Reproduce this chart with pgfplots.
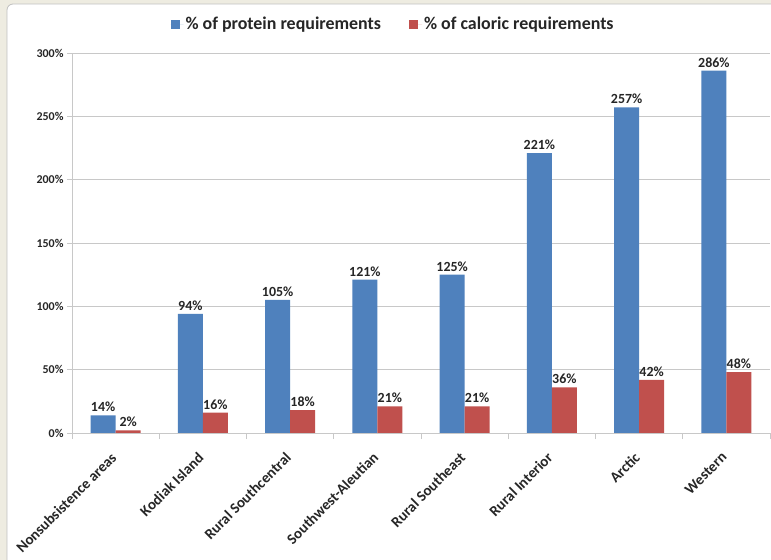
\documentclass[border=0pt]{standalone}
\usepackage{fontspec}
\setmainfont{Carlito}
\usepackage{pgfplots}
\pgfplotsset{compat=1.18}
\definecolor{cblue}{HTML}{4F81BD}
\definecolor{cred}{HTML}{C0504D}
\definecolor{bgbeige}{HTML}{EEECE1}
\definecolor{gridc}{HTML}{C8C8C8}
\definecolor{txt}{HTML}{262626}
\begin{document}
\begin{tikzpicture}
\useasboundingbox (0,0) rectangle (771bp,560bp);
\fill[bgbeige] (0,0) rectangle (771bp,560bp);
\draw[fill=white, draw=gray!50, line width=0.8bp, rounded corners=6bp] (7bp,-20bp) rectangle (800bp,556bp);
\begin{axis}[
  at={(72bp,127bp)}, anchor=south west,
  width=698bp, height=380bp, scale only axis,
  ymin=0, ymax=300, xmin=-0.5, xmax=7.5,
  ybar=0pt, bar width=25bp,
  /pgf/number format/assume math mode=true,
  axis x line*=bottom, axis y line*=left,
  axis line style={-, draw=gridc, line width=0.8bp},
  ytick={0,50,...,300},
  yticklabel={\pgfmathprintnumber{\tick}\%},
  yticklabel style={font=\bfseries\fontsize{12}{14}\selectfont, text=txt},
  ymajorgrids, grid style={draw=gridc, line width=0.8bp},
  tick align=outside,
  major tick length=5bp, minor tick length=6bp,
  every tick/.style={draw=gridc, line width=0.8bp},
  xtick={0,...,7},
  major x tick style={draw=none},
  minor xtick={-0.5,0.5,...,7.5},
  xticklabels={Nonsubsistence areas, Kodiak Island, Rural Southcentral, Southwest-Aleutian, Rural Southeast, Rural Interior, Arctic, Western},
  xticklabel style={rotate=45, anchor=north east, font=\bfseries\fontsize{15}{17}\selectfont, text=txt, xshift=-10bp, yshift=-2bp},
  nodes near coords={\pgfmathprintnumber{\pgfplotspointmeta}\%},
  nodes near coords style={font=\bfseries\fontsize{14}{16}\selectfont, text=txt},
  legend style={at={(0.46,1.076)}, anchor=center, draw=none, fill=none, legend columns=2,
    font=\bfseries\fontsize{18}{20}\selectfont, text=txt,
    /tikz/every even column/.append style={column sep=26bp}},
  legend image code/.code={\fill[#1] (0bp,-4.5bp) rectangle (9bp,4.5bp); \path (0bp,0bp) -- (13bp,0bp);},
]
\addplot[fill=cblue, draw=none] coordinates {(0,14) (1,94) (2,105) (3,121) (4,125) (5,221) (6,257) (7,286)};
\addplot[fill=cred, draw=none] coordinates {(0,2) (1,16) (2,18) (3,21) (4,21) (5,36) (6,42) (7,48)};
\legend{\% of protein requirements, \% of caloric requirements}
\end{axis}
\end{tikzpicture}
\end{document}
